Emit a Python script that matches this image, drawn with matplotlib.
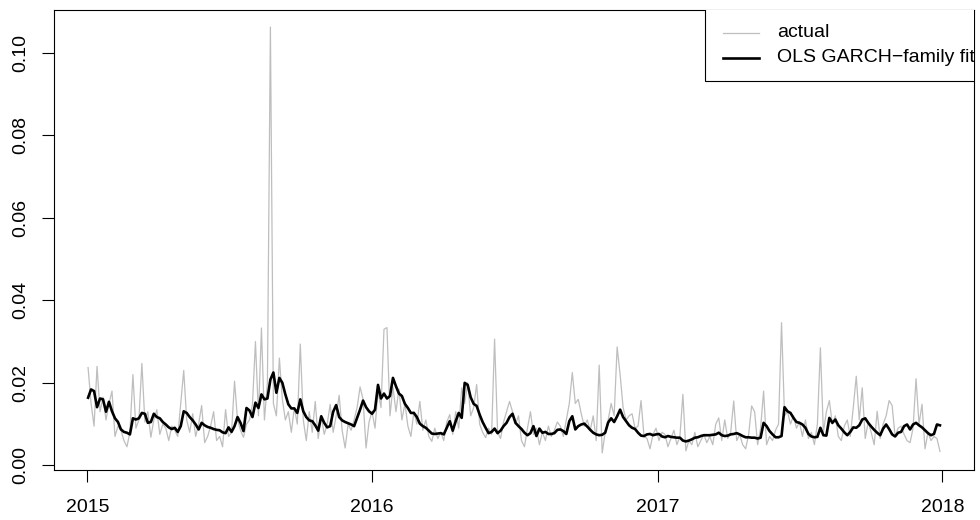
import matplotlib
matplotlib.use("Agg")
import matplotlib.pyplot as plt
from matplotlib.patches import Rectangle
import numpy as np
import pandas as pd

plt.rcParams['font.family'] = ['Liberation Sans', 'DejaVu Sans']

# realised volatility and the fitted conditional volatility, sampled every ~3 trading days
actual = [
    0.0237, 0.0150, 0.0095, 0.0240, 0.0130, 0.0165, 0.0110, 0.0150, 0.0180, 0.0070,
    0.0095, 0.0085, 0.0060, 0.0045, 0.0080, 0.0220, 0.0090, 0.0110, 0.0247, 0.0105,
    0.0130, 0.0068, 0.0110, 0.0135, 0.0075, 0.0100, 0.0090, 0.0060, 0.0095, 0.0085,
    0.0070, 0.0150, 0.0230, 0.0110, 0.0080, 0.0125, 0.0070, 0.0100, 0.0145, 0.0055,
    0.0070, 0.0095, 0.0130, 0.0060, 0.0070, 0.0045, 0.0135, 0.0070, 0.0080, 0.0204,
    0.0110, 0.0085, 0.0068, 0.0100, 0.0110, 0.0148, 0.0300, 0.0120, 0.0333, 0.0110,
    0.0200, 0.1063, 0.0150, 0.0120, 0.0260, 0.0160, 0.0110, 0.0130, 0.0080, 0.0140,
    0.0100, 0.0294, 0.0110, 0.0060, 0.0130, 0.0080, 0.0155, 0.0065, 0.0120, 0.0075,
    0.0100, 0.0148, 0.0080, 0.0120, 0.0170, 0.0085, 0.0042, 0.0100, 0.0085, 0.0110,
    0.0140, 0.0190, 0.0160, 0.0042, 0.0105, 0.0130, 0.0090, 0.0180, 0.0140, 0.0330,
    0.0334, 0.0120, 0.0190, 0.0130, 0.0185, 0.0110, 0.0150, 0.0095, 0.0070, 0.0130,
    0.0100, 0.0155, 0.0085, 0.0110, 0.0070, 0.0058, 0.0090, 0.0065, 0.0080, 0.0060,
    0.0105, 0.0123, 0.0075, 0.0130, 0.0090, 0.0188, 0.0150, 0.0200, 0.0120, 0.0140,
    0.0196, 0.0100, 0.0080, 0.0067, 0.0090, 0.0075, 0.0306, 0.0080, 0.0065, 0.0105,
    0.0130, 0.0155, 0.0130, 0.0100, 0.0120, 0.0060, 0.0045, 0.0090, 0.0130, 0.0075,
    0.0090, 0.0050, 0.0080, 0.0060, 0.0095, 0.0070, 0.0085, 0.0105, 0.0095, 0.0070,
    0.0110, 0.0150, 0.0225, 0.0150, 0.0160, 0.0125, 0.0095, 0.0110, 0.0085, 0.0120,
    0.0060, 0.0243, 0.0030, 0.0080, 0.0110, 0.0150, 0.0120, 0.0287, 0.0220, 0.0140,
    0.0110, 0.0120, 0.0125, 0.0090, 0.0095, 0.0157, 0.0070, 0.0065, 0.0040, 0.0075,
    0.0090, 0.0060, 0.0080, 0.0075, 0.0045, 0.0065, 0.0085, 0.0050, 0.0070, 0.0172,
    0.0035, 0.0060, 0.0050, 0.0080, 0.0045, 0.0060, 0.0075, 0.0055, 0.0070, 0.0050,
    0.0100, 0.0115, 0.0060, 0.0110, 0.0065, 0.0080, 0.0156, 0.0060, 0.0075, 0.0050,
    0.0040, 0.0075, 0.0144, 0.0130, 0.0050, 0.0090, 0.0180, 0.0050, 0.0070, 0.0060,
    0.0085, 0.0100, 0.0346, 0.0120, 0.0130, 0.0100, 0.0120, 0.0090, 0.0105, 0.0070,
    0.0110, 0.0065, 0.0080, 0.0050, 0.0100, 0.0285, 0.0080, 0.0130, 0.0157, 0.0100,
    0.0120, 0.0070, 0.0060, 0.0095, 0.0110, 0.0070, 0.0140, 0.0216, 0.0110, 0.0188,
    0.0065, 0.0105, 0.0080, 0.0050, 0.0131, 0.0065, 0.0100, 0.0120, 0.0157, 0.0145,
    0.0070, 0.0090, 0.0095, 0.0075, 0.0060, 0.0055, 0.0090, 0.0210, 0.0100, 0.0148,
    0.0040, 0.0080, 0.0060, 0.0070, 0.0065, 0.0034,
]

fitted = [
    0.0164, 0.0184, 0.0180, 0.0141, 0.0162, 0.0160, 0.0130, 0.0154, 0.0131, 0.0114,
    0.0105, 0.0087, 0.0081, 0.0079, 0.0075, 0.0114, 0.0111, 0.0114, 0.0127, 0.0125,
    0.0103, 0.0105, 0.0125, 0.0117, 0.0114, 0.0105, 0.0099, 0.0092, 0.0088, 0.0091,
    0.0081, 0.0095, 0.0131, 0.0127, 0.0117, 0.0109, 0.0099, 0.0087, 0.0103, 0.0097,
    0.0093, 0.0091, 0.0088, 0.0086, 0.0085, 0.0080, 0.0078, 0.0092, 0.0081, 0.0095,
    0.0117, 0.0103, 0.0083, 0.0139, 0.0133, 0.0117, 0.0152, 0.0139, 0.0172, 0.0160,
    0.0162, 0.0208, 0.0225, 0.0176, 0.0212, 0.0200, 0.0172, 0.0148, 0.0138, 0.0138,
    0.0127, 0.0160, 0.0131, 0.0117, 0.0109, 0.0107, 0.0097, 0.0084, 0.0119, 0.0103,
    0.0092, 0.0095, 0.0130, 0.0146, 0.0117, 0.0109, 0.0105, 0.0102, 0.0099, 0.0095,
    0.0115, 0.0135, 0.0157, 0.0141, 0.0131, 0.0125, 0.0135, 0.0195, 0.0162, 0.0174,
    0.0162, 0.0168, 0.0212, 0.0192, 0.0174, 0.0168, 0.0149, 0.0139, 0.0127, 0.0127,
    0.0117, 0.0101, 0.0095, 0.0091, 0.0084, 0.0077, 0.0076, 0.0077, 0.0078, 0.0075,
    0.0091, 0.0107, 0.0084, 0.0107, 0.0127, 0.0115, 0.0200, 0.0195, 0.0165, 0.0149,
    0.0144, 0.0123, 0.0105, 0.0091, 0.0078, 0.0081, 0.0089, 0.0078, 0.0084, 0.0095,
    0.0103, 0.0117, 0.0125, 0.0103, 0.0095, 0.0088, 0.0079, 0.0073, 0.0078, 0.0095,
    0.0071, 0.0089, 0.0079, 0.0081, 0.0076, 0.0076, 0.0078, 0.0086, 0.0087, 0.0083,
    0.0076, 0.0107, 0.0119, 0.0087, 0.0095, 0.0099, 0.0101, 0.0094, 0.0086, 0.0079,
    0.0075, 0.0073, 0.0074, 0.0079, 0.0104, 0.0114, 0.0105, 0.0119, 0.0135, 0.0117,
    0.0107, 0.0097, 0.0091, 0.0088, 0.0079, 0.0072, 0.0071, 0.0075, 0.0076, 0.0073,
    0.0075, 0.0076, 0.0070, 0.0068, 0.0071, 0.0069, 0.0068, 0.0067, 0.0067, 0.0060,
    0.0058, 0.0060, 0.0063, 0.0067, 0.0068, 0.0071, 0.0073, 0.0073, 0.0073, 0.0074,
    0.0075, 0.0079, 0.0073, 0.0071, 0.0072, 0.0075, 0.0076, 0.0078, 0.0075, 0.0071,
    0.0068, 0.0068, 0.0067, 0.0067, 0.0065, 0.0067, 0.0103, 0.0095, 0.0083, 0.0075,
    0.0068, 0.0068, 0.0071, 0.0141, 0.0131, 0.0127, 0.0115, 0.0105, 0.0103, 0.0099,
    0.0091, 0.0076, 0.0070, 0.0068, 0.0069, 0.0091, 0.0073, 0.0072, 0.0115, 0.0103,
    0.0111, 0.0097, 0.0089, 0.0080, 0.0073, 0.0081, 0.0092, 0.0091, 0.0097, 0.0111,
    0.0114, 0.0103, 0.0094, 0.0086, 0.0079, 0.0073, 0.0089, 0.0099, 0.0088, 0.0075,
    0.0070, 0.0079, 0.0081, 0.0095, 0.0099, 0.0087, 0.0099, 0.0103, 0.0097, 0.0092,
    0.0085, 0.0078, 0.0073, 0.0076, 0.0099, 0.0097,
]

dates = pd.date_range("2015-01-02", "2017-12-29", periods=len(actual))
year_ticks = [2015, 2016, 2017, 2018]
y_ticks = [0.00, 0.02, 0.04, 0.06, 0.08, 0.10]

fig = plt.figure(figsize=(9.8, 5.2), dpi=100)
ax = fig.add_axes([0.0551, 0.0962, 0.9388, 0.8846])

ax.plot(dates, actual, color="#bebebe", lw=0.9)
ax.plot(dates, fitted, color="black", lw=1.9)
ax.margins(x=0.04, y=0.04)

ax.set_xticks([pd.Timestamp(f"{y}-01-01") for y in year_ticks])
ax.set_xticklabels([str(y) for y in year_ticks])
ax.set_yticks(y_ticks)
ax.set_yticklabels([f"{v:.2f}" for v in y_ticks], rotation=90, va="center")
ax.tick_params(direction="out", length=8.6, width=0.8, labelsize=14, colors="black")
ax.tick_params(axis="x", pad=12)
ax.tick_params(axis="y", pad=9)
for s in ax.spines.values():
    s.set_linewidth(0.8)

# legend box in the top right corner, clipped by the plot frame
leg_left, leg_bottom = 0.7076, 0.8457
ax.add_patch(Rectangle((leg_left, leg_bottom), 0.5, 0.5, transform=ax.transAxes,
                       facecolor="white", edgecolor="black", lw=0.8, clip_on=True, zorder=5))
ax.plot([0.727, 0.766], [0.950, 0.950], transform=ax.transAxes, color="#bebebe", lw=0.9,
        clip_on=True, zorder=6)
ax.plot([0.727, 0.766], [0.8957, 0.8957], transform=ax.transAxes, color="black", lw=1.9,
        clip_on=True, zorder=6)
ax.text(0.786, 0.950, "actual", transform=ax.transAxes, fontsize=14, va="center",
        clip_on=True, zorder=6)
ax.text(0.786, 0.8957, "OLS GARCH\u2212family fit", transform=ax.transAxes, fontsize=14,
        va="center", clip_on=True, zorder=6)

fig.savefig("out.png", dpi=100)
